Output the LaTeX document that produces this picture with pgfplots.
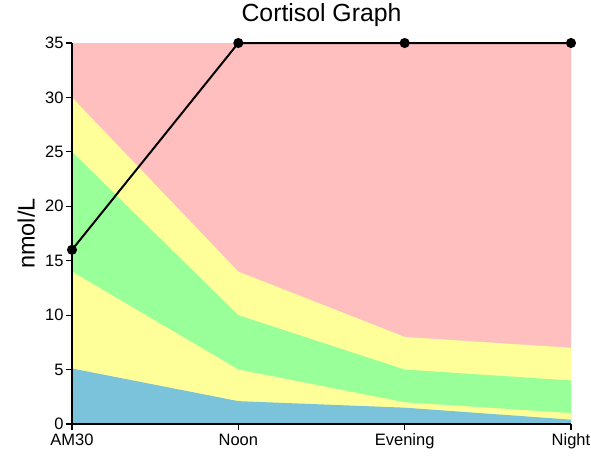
\documentclass[border=0pt]{standalone}
\usepackage{fontspec}
\setmainfont{Liberation Sans}
\usepackage{pgfplots}
\pgfplotsset{compat=1.18}
\definecolor{cpink}{RGB}{255,191,191}
\definecolor{cyel}{RGB}{255,255,153}
\definecolor{cgreen}{RGB}{153,255,153}
\definecolor{cblue}{RGB}{122,195,219}
\begin{document}
\begin{tikzpicture}[x=1pt,y=1pt]
\path[use as bounding box] (-72,-32) rectangle (519,424);
\begin{axis}[
  at={(0,0)}, anchor=south west,
  scale only axis, width=499pt, height=381pt,
  xmin=0, xmax=3, ymin=0, ymax=35,
  xtick={0,1,2,3}, xticklabels={AM30,Noon,Evening,Night},
  ytick={0,5,...,35},
  axis x line*=bottom, axis y line*=left,
  axis line style={line width=1.3pt, -},
  tick align=outside, major tick length=6pt,
  tick style={line width=1.2pt, black},
  ticklabel style={font=\fontsize{16.5}{19}\selectfont},
  yticklabel style={xshift=1pt},
  /pgf/number format/assume math mode=true,
  ylabel={nmol/L}, ylabel style={font=\fontsize{23.5}{27}\selectfont, at={(-37pt,0.5)}, anchor=south, inner sep=0pt},
  title={Cortisol Graph}, title style={font=\fontsize{24.8}{28}\selectfont, at={(0.5,1)}, anchor=base, yshift=15.5pt, inner sep=0pt},
  xticklabel style={yshift=-0.5pt},
  clip=false,
  axis on top,
]
\addplot[fill=cpink, draw=none] coordinates {(0,35)(1,35)(2,35)(3,35)} \closedcycle;
\addplot[fill=cyel, draw=none] coordinates {(0,30)(1,14)(2,8)(3,7)} \closedcycle;
\addplot[fill=cgreen, draw=none] coordinates {(0,25)(1,10)(2,5)(3,4)} \closedcycle;
\addplot[fill=cyel, draw=none] coordinates {(0,14)(1,5)(2,2)(3,1)} \closedcycle;
\addplot[fill=cblue, draw=none] coordinates {(0,5.1)(1,2.1)(2,1.5)(3,0.4)} \closedcycle;
\addplot[black, line width=2pt, mark=*, mark size=4pt, mark options={fill=black}] coordinates {(0,16)(1,35)(2,35)(3,35)};
\end{axis}
\end{tikzpicture}
\end{document}
